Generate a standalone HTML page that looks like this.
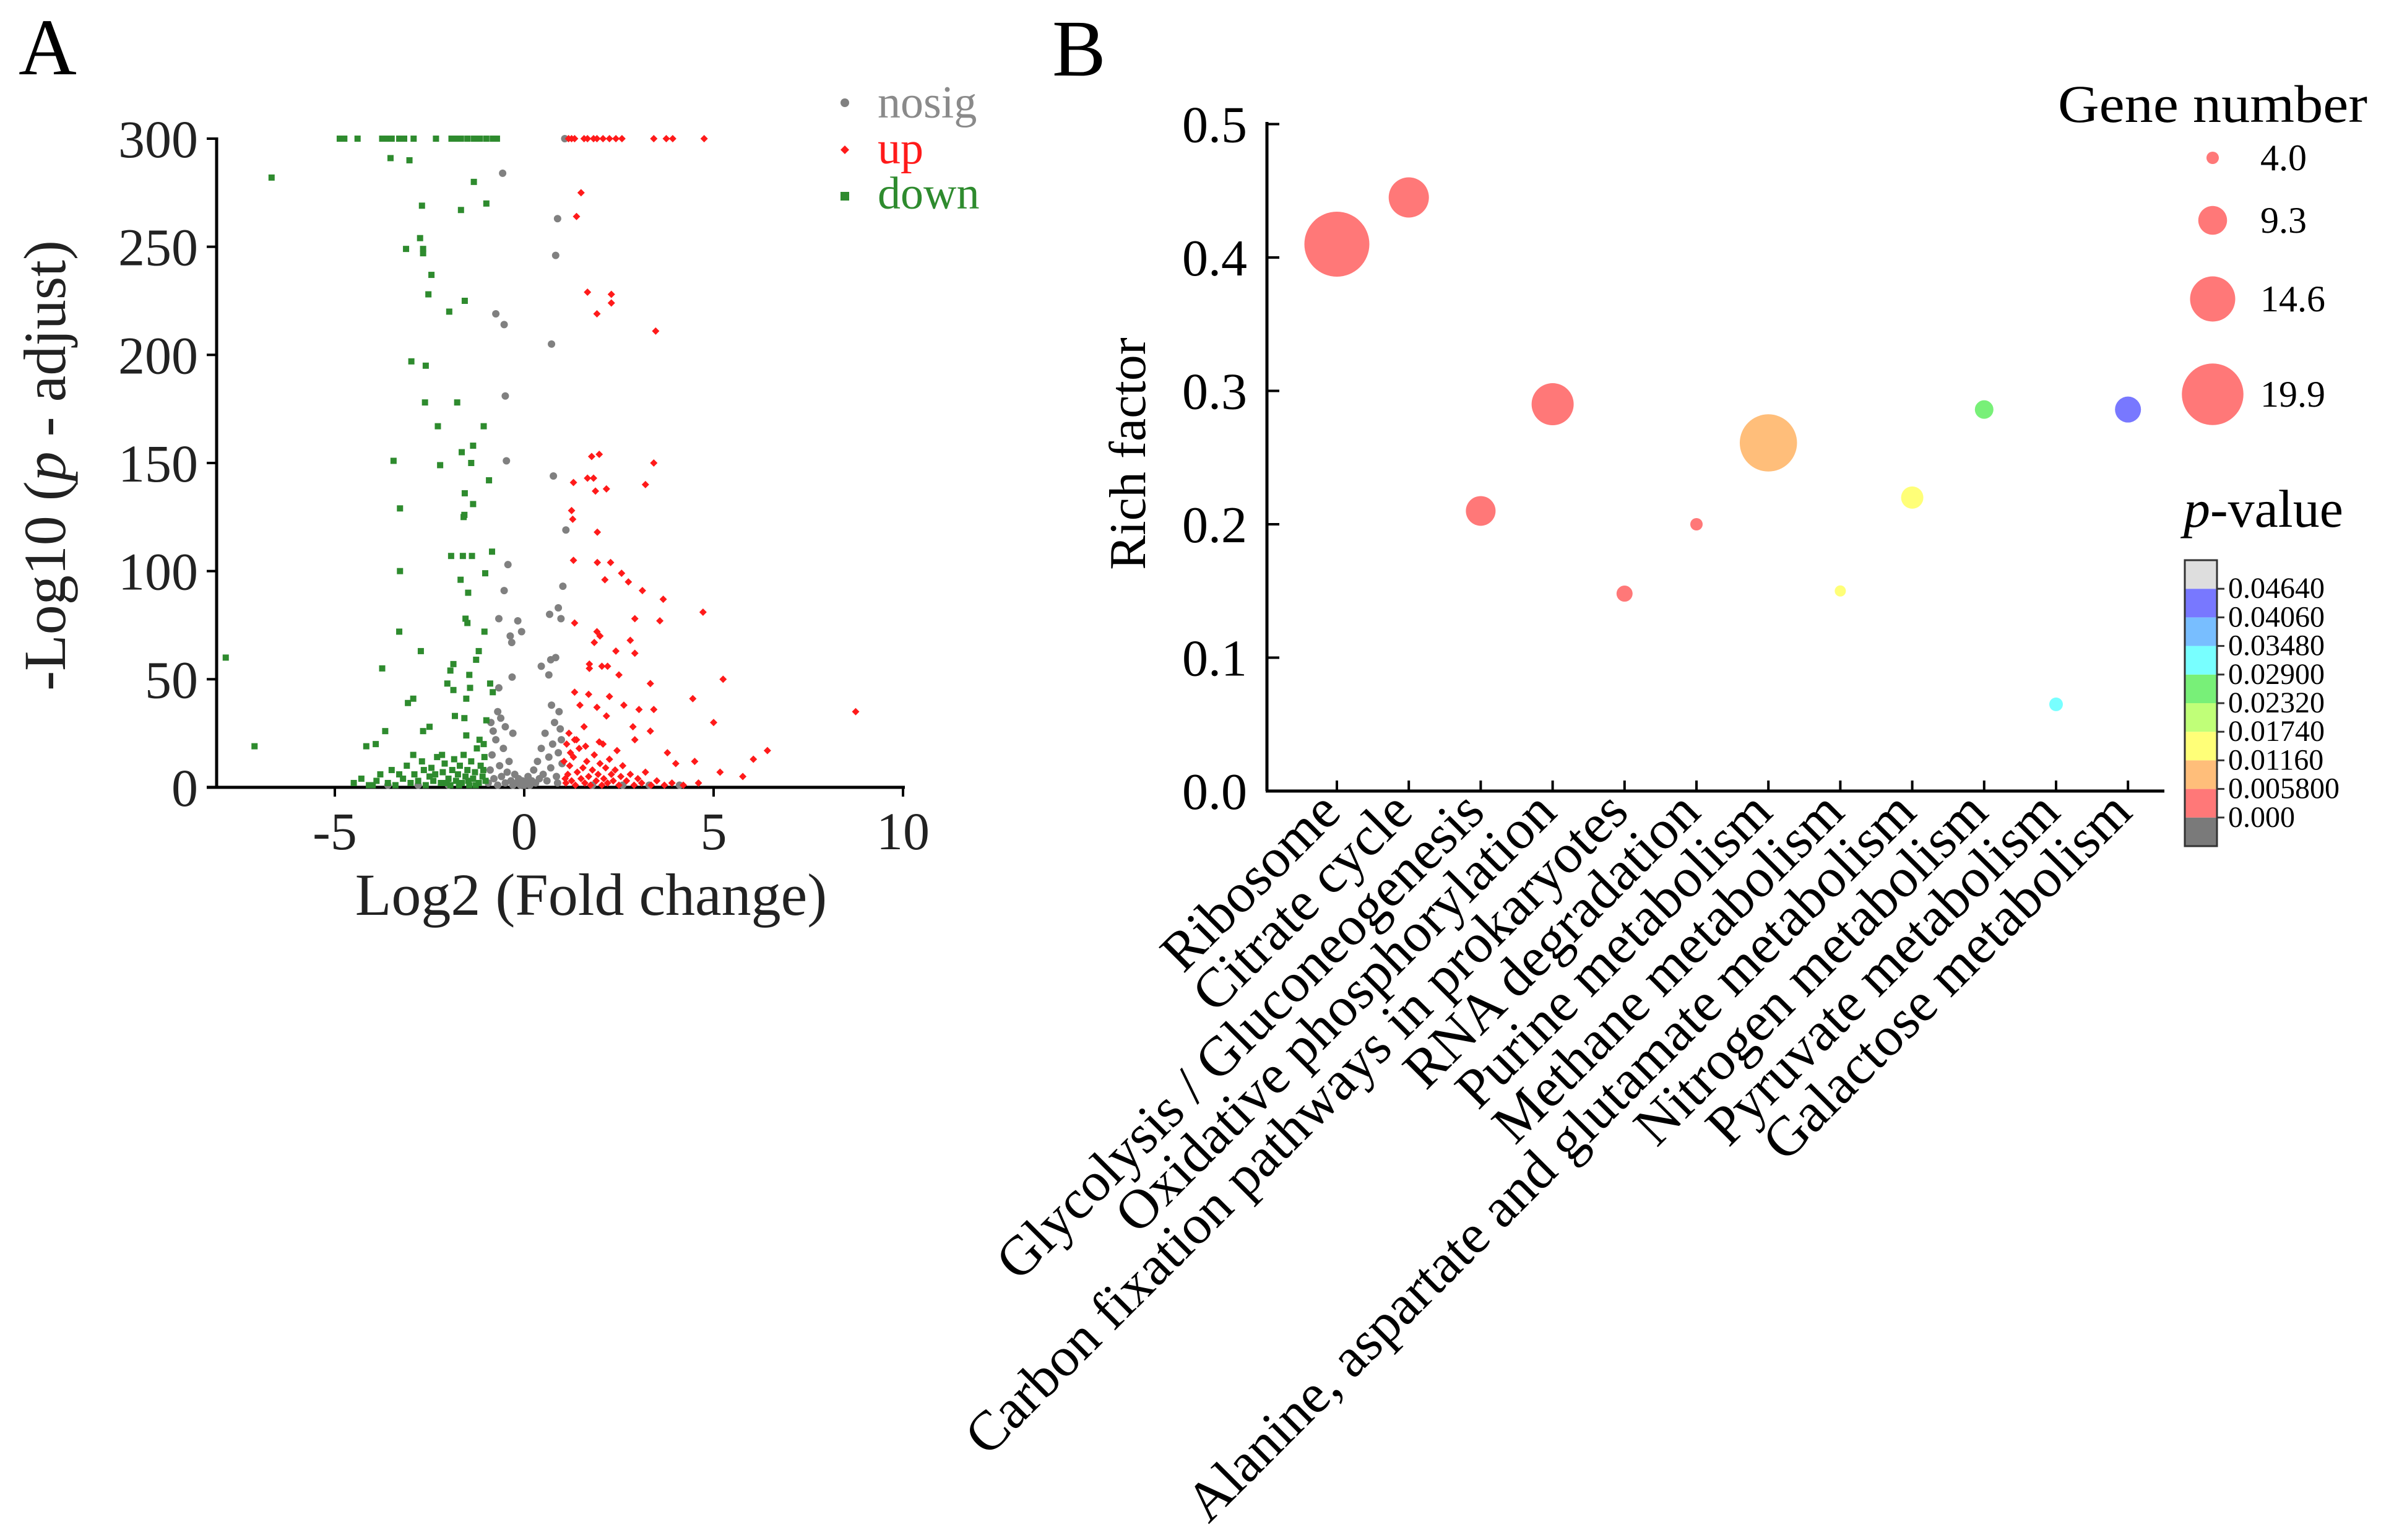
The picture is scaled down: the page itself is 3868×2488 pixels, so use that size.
<!DOCTYPE html>
<html><head><meta charset="utf-8"><style>
html,body{margin:0;padding:0;background:#fff;}
svg{display:block;font-family:"Liberation Serif",serif;}
</style></head><body>
<svg id="fig" width="3868" height="2488" viewBox="0 0 3868 2488" xmlns="http://www.w3.org/2000/svg">
<rect width="3868" height="2488" fill="#fff"/>
<g id="panelA"></g>
<g id="panelB"></g>
</svg>
<script>
// ---- Panel A data ----
const downX = [-4.87,-4.75,-4.4,-3.75,-3.6,-3.5,-3.3,-3.17,-2.92,-2.33,-1.92,-1.8,-1.67,-1.5,-1.33,-1.17,-1,-0.83,-0.72,
-3.53,-3.03,-6.67,-1.33,-2.7,-1.67,-1,-2.75,-3.12,-2.67,-2.67,-2.45,-2.53,-1.57,-1.98,-2.98,-2.6,-2.62,-1.77,-2.28,-1.07,-1.65,-1.35,-3.45,-2.22,-1.4,-0.93,-1.57,-1.35,-3.28,-1.58,-1.6,-1.93,-1.62,-1.38,-0.85,-3.28,-1.68,-1.03,-1.48,-1.55,-1.5,-1.05,-3.3,-7.88,-2.73,-1.2,-1.27,-1.87,-3.75,-1.95,-1.45,-2.03,-0.9,-1.87,-1.43,-2.93,-3.07,-0.83,-1.53,-1.83,-1.58,-1,-2.5,-3.67,-2.67,-1.53,-7.12,-4.17,-3.92,-1.07,-2.93,-2.17,
-4.5,-4.3,-4.1,-3.9,-3.8,-3.6,-3.5,-3.4,-3.2,-3.1,-3,-2.9,-2.8,-2.7,-2.6,-2.5,-2.45,-2.4,-2.3,-2.2,-2.15,-2.1,-2,-1.95,-1.9,-1.85,-1.8,-1.75,-1.7,-1.65,-1.6,-1.55,-1.5,-1.45,-1.4,-1.35,-1.3,-1.25,-1.2,-1.15,-1.1,-1.05,-1.02,-1.08,-1.18,-1.28,-1.48,-1.72,-2.05,-2.35,-2.65,-3.3,-4];
const downY = [300,300,300,300,300,300,300,300,300,300,300,300,300,300,300,300,300,300,300,
291,290,282,280,269,267,270,254,249,249,247,237,228,225,220,197,195,178,178,167,167,155,158,151,149,150,142,136,131,129,126,125,107,107,107,109,100,96,99,90,78,76,72,72,60,63,63,59,57,55,54,52,48,48,45,46,41,39,44,41,33,32,31,28,26,26,24,19,19,20,20,15,15,
2,4,1,3,6,2,8,1,4,10,2,6,3,12,1,5,9,3,14,2,7,11,4,1,8,13,3,6,10,2,15,5,8,1,12,4,7,18,2,10,5,14,3,8,22,1,3,1,2,6,8,6,1];
const upX = [1.17,1.25,1.33,1.58,1.67,1.83,1.92,2.08,2.25,2.42,2.58,3.42,3.75,3.92,4.75,
1.5,1.38,1.67,2.3,2.3,1.92,3.47,1.98,1.78,3.42,1.67,1.83,1.3,3.2,1.88,2.17,1.25,1.28,1.93,1.3,1.93,2.28,2.57,2.75,2.13,3.12,3.67,4.72,3.58,1.33,2.92,1.92,2,1.85,2.8,2.42,2.92,1.72,2.05,2.2,5.25,1.72,2.5,3.33,1.33,1.7,2.25,4.45,8.75,1.47,1.92,2.63,3.03,3.42,2.17,5,1.58,2.87,3.33,1.33,2.08,2.92,6.42,3.78,6.05,4.5,4,5.77,5.17,
1.1,1.15,1.2,1.25,1.3,1.35,1.4,1.45,1.5,1.55,1.6,1.65,1.7,1.75,1.8,1.85,1.9,1.95,2,2.05,2.1,2.15,2.2,2.25,2.3,2.35,2.4,2.5,2.55,2.6,2.7,2.8,2.9,3,3.1,3.2,3.35,3.5,3.7,3.9,4.2,4.6,1.12,1.18,1.22,1.38,1.62,1.98,2.45,1.05,1.08];
const upY = [300,300,300,300,300,300,300,300,300,300,300,300,300,300,300,
275,264,229,228,224,219,211,154,153,150,143,143,141,140,137,138,128,124,118,105,104,104,99,95,96,91,87,81,77,76,78,72,70,67,68,63,62,57,56,56,50,55,52,48,44,43,42,41,35,38,37,38,36,36,33,30,28,28,26,22,20,22,17,16,13,12,11,5,7,
2,6,10,3,14,1,7,18,4,9,2,12,5,1,8,15,3,6,11,1,4,9,2,13,6,3,8,1,5,10,3,6,1,4,2,7,1,3,1,2,1,2,20,25,16,22,19,21,17,12,4];
const nosigX = [-0.57,0.88,0.83,1.07,-0.75,-0.53,0.72,-0.5,-0.47,0.77,1.1,-0.43,-0.53,1.02,0.67,0.9,-0.17,-0.67,0.97,-0.37,-0.07,-0.33,0.83,0.7,0.45,-0.32,0.65,-0.67,
-0.95,-0.9,-0.85,-0.8,-0.75,-0.7,-0.65,-0.6,-0.55,-0.5,-0.45,-0.4,-0.35,-0.3,-0.25,-0.2,-0.15,-0.1,-0.05,0,0.05,0.1,0.15,0.2,0.25,0.3,0.35,0.4,0.45,0.5,0.55,0.6,0.65,0.7,0.75,0.8,0.85,0.9,0.95,1,0.98,0.92,0.88,0.72,-0.88,-0.62,-0.82,-0.3,-0.5,-0.7,-3.6,-2.8,-2,1.8,2.6,3.3,4.1];
const nosigY = [284,263,246,300,219,214,205,181,151,144,119,103,91,93,80,83,77,78,78,70,72,67,60,59,56,51,52,46,
2,8,15,4,22,1,10,5,18,2,7,12,3,1,6,2,4,1,3,1,2,5,1,3,8,2,12,4,18,6,25,3,14,9,20,30,5,16,27,11,22,35,2,38,30,32,26,25,28,35,1,1,1,1,1,1,1];
const aYTicks = [0,50,100,150,200,250,300];
const aXTicks = [-5,0,5,10];

// ---- Panel B data ----
const categories = ["Ribosome","Citrate cycle","Glycolysis / Gluconeogenesis","Oxidative phosphorylation","Carbon fixation pathways in prokaryotes","RNA degradation","Purine metabolism","Methane metabolism","Alanine, aspartate and glutamate metabolism","Nitrogen metabolism","Pyruvate metabolism","Galactose metabolism"];
const richFactor = [0.41,0.445,0.21,0.29,0.148,0.2,0.261,0.15,0.22,0.286,0.065,0.286];
const geneNumber = [21,13,9.6,13.6,5.2,4,18.5,3.6,7.2,6,4.4,8.4];
const pValue = [0.001,0.002,0.003,0.004,0.004,0.005,0.009,0.014,0.015,0.026,0.032,0.043];
const bYTicks = [0.0,0.1,0.2,0.3,0.4,0.5];
const sizeLegend = [4.0,9.3,14.6,19.9];
const cbBreaks = [0.000,0.005800,0.01160,0.01740,0.02320,0.02900,0.03480,0.04060,0.04640];
const cbLabels = ["0.000","0.005800","0.01160","0.01740","0.02320","0.02900","0.03480","0.04060","0.04640"];
const cbColors = ["#7a7a7a","#ff7878","#ffbe7a","#ffff78","#c0ff78","#78f078","#78ffff","#78beff","#7878ff","#dedede"];

const NS="http://www.w3.org/2000/svg";
function mk(tag, attrs, parent, txt){const e=document.createElementNS(NS,tag);for(const k in attrs)e.setAttribute(k,attrs[k]);if(txt!==undefined)e.textContent=txt;parent.appendChild(e);return e;}

// ---- Panel A ----
const A=document.getElementById('panelA');
const xA=v=>847+v*61.2, yA=v=>1272-v*(1048/300);
let t=mk('text',{x:30,y:120,'font-size':130},A,'A');


let ax=mk('line',{x1:350,y1:1272,x2:350,y2:222,stroke:'#000','stroke-width':5},A);


ax=mk('line',{x1:334,y1:1272,x2:1462,y2:1272,stroke:'#000','stroke-width':5},A);


aYTicks.forEach(v=>{
  const l=mk('line',{x1:334,x2:350,y1:yA(v),y2:yA(v),stroke:'#000','stroke-width':4},A);
  
  
  const tx=mk('text',{x:320,y:yA(v)+30,'font-size':86,'text-anchor':'end',fill:'#222'},A,String(v));
  
  
});
aXTicks.forEach(v=>{
  const l=mk('line',{x1:xA(v),x2:xA(v),y1:1272,y2:1287,stroke:'#000','stroke-width':4},A);
  
  
  const tx=mk('text',{x:xA(v),y:1372,'font-size':86,'text-anchor':'middle',fill:'#222'},A,String(v));
  
  
});
t=mk('text',{x:955,y:1478,'font-size':96,'text-anchor':'middle',fill:'#222'},A,'Log2 (Fold change)');


t=mk('text',{transform:'translate(105,752) rotate(-90)','font-size':96,'text-anchor':'middle',fill:'#222'},A);


t.innerHTML='-Log10 (<tspan font-style="italic">p</tspan> - adjust)';
nosigX.forEach((x,i)=>{const c=mk('circle',{cx:xA(x),cy:yA(nosigY[i]),r:6,fill:'#808080'},A);
  
  });
downX.forEach((x,i)=>{const c=mk('rect',{x:xA(x)-5,y:yA(downY[i])-5,width:10,height:10,fill:'#2e8b2e'},A);
  
  });
upX.forEach((x,i)=>{const cx=xA(x),cy=yA(upY[i]);const c=mk('polygon',{points:`${cx},${cy-6} ${cx+6},${cy} ${cx},${cy+6} ${cx-6},${cy}`,fill:'#ff1a1a'},A);
  
  });
let lg=mk('g',{},A);


mk('circle',{cx:1365,cy:166,r:7,fill:'#808080'},lg);
mk('text',{x:1418,y:190,'font-size':74,fill:'#8a8a8a'},lg,'nosig');
mk('polygon',{points:'1365,235 1372,242 1365,249 1358,242',fill:'#ff1a1a'},lg);
mk('text',{x:1418,y:264,'font-size':74,fill:'#ff1a1a'},lg,'up');
mk('rect',{x:1358,y:310,width:14,height:14,fill:'#2e8b2e'},lg);
mk('text',{x:1418,y:337,'font-size':74,fill:'#2e8b2e'},lg,'down');

// ---- Panel B ----
const B=document.getElementById('panelB');
const xB=i=>2160+i*116.2, yB=v=>1278-v*2155;
function pColor(p){let k=0;for(let j=0;j<cbBreaks.length;j++){if(p>=cbBreaks[j])k=j+1;}return cbColors[k];}
t=mk('text',{x:1700,y:122,'font-size':130},B,'B');


ax=mk('line',{x1:2047,y1:1278,x2:2047,y2:197,stroke:'#000','stroke-width':5},B);


ax=mk('line',{x1:2045,y1:1278,x2:3497,y2:1278,stroke:'#000','stroke-width':5},B);


bYTicks.forEach(v=>{
  const l=mk('line',{x1:2047,x2:2067,y1:yB(v),y2:yB(v),stroke:'#000','stroke-width':4},B);
  
  
  const tx=mk('text',{x:2015,y:yB(v)+29,'font-size':84,'text-anchor':'end'},B,v.toFixed(1));
  
  
});
t=mk('text',{transform:'translate(1850,733) rotate(-90)','font-size':84,'text-anchor':'middle'},B,'Rich factor');


categories.forEach((c,i)=>{
  const l=mk('line',{x1:xB(i),x2:xB(i),y1:1278,y2:1261,stroke:'#000','stroke-width':4},B);
  
  
  const tx=mk('text',{transform:`translate(${xB(i)+10},1316) rotate(-45)`,'font-size':90,'text-anchor':'end'},B,c);
  
  
});
categories.forEach((c,i)=>{
  const b=mk('circle',{cx:xB(i),cy:yB(richFactor[i]),r:geneNumber[i]*2.5,fill:pColor(pValue[i])},B);
  
  
});
t=mk('text',{x:3325,y:197,'font-size':86,textLength:500,lengthAdjust:'spacingAndGlyphs'},B,'Gene number');


const sY=[255,356,483,637];
sizeLegend.forEach((n,i)=>{
  const c=mk('circle',{cx:3575,cy:sY[i],r:n*2.5,fill:'#ff7878'},B);
  
  
  const tx=mk('text',{x:3652,y:sY[i]+20,'font-size':60},B,n.toFixed(1));
  
  
});
t=mk('text',{x:3528,y:851,'font-size':86},B);


t.innerHTML='<tspan font-style="italic">p</tspan>-value';
const cbTop=905, cbH=462, seg=cbH/cbColors.length;
cbColors.forEach((col,k)=>{
  const r=mk('rect',{x:3530,y:cbTop+cbH-(k+1)*seg,width:52,height:seg,fill:col},B);
  
  
});
const fr=mk('rect',{x:3530,y:cbTop,width:52,height:cbH,fill:'none',stroke:'#333','stroke-width':3},B);


cbLabels.forEach((lab,k)=>{
  const yy=cbTop+cbH-(k+1)*seg;
  const l=mk('line',{x1:3582,x2:3594,y1:yy,y2:yy,stroke:'#333','stroke-width':3},B);
  
  
  const tx=mk('text',{x:3600,y:yy+15,'font-size':48},B,lab);
  
  
});
</script>
</body></html>
